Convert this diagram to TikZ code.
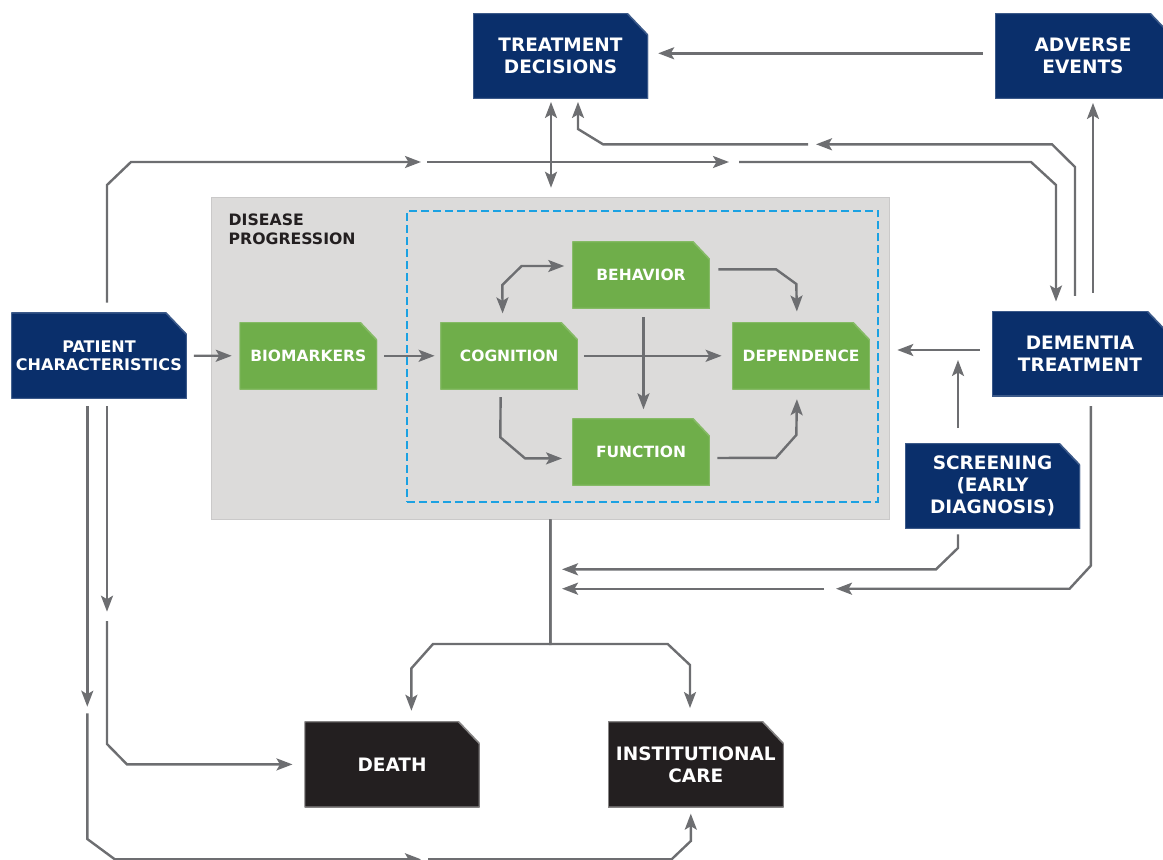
\documentclass[tikz,border=0pt]{standalone}
\usepackage{fontspec}
\setmainfont{DejaVu Sans}
\usetikzlibrary{arrows.meta,positioning}
\definecolor{navy}{HTML}{0A2F6B}
\definecolor{leaf}{HTML}{6FAE4A}
\definecolor{ink}{HTML}{231F20}
\definecolor{wiregray}{HTML}{6D6E71}
\definecolor{panel}{HTML}{DCDBDA}
\definecolor{sky}{HTML}{1BA1E2}
\def\bigw{175pt}
\def\bigh{85.5pt}
\def\smallw{137.5pt}
\def\smallh{67pt}

\begin{document}
\begin{tikzpicture}[x=1pt, y=-1pt, line join=miter,
    flow/.style={draw=wiregray, line width=2.4pt, -{Stealth[length=16pt,width=12pt,inset=3.5pt]}},
    twoway/.style={draw=wiregray, line width=2.4pt, {Stealth[length=16pt,width=12pt,inset=3.5pt]}-{Stealth[length=16pt,width=12pt,inset=3.5pt]}},
    cut x/.store in=\cutx, cut y/.store in=\cuty, cut x=21pt, cut y=22pt,
    cut fill/.style 2 args={path picture={
        \path[fill=#1, draw=#2, line width=1.6pt]
            (path picture bounding box.south west) -- (path picture bounding box.north west)
            -- ([xshift=-\cutx]path picture bounding box.north east)
            -- ([yshift=-\cuty]path picture bounding box.north east)
            -- (path picture bounding box.south east) -- cycle;}}]
    \tikzstyle{block}=[rectangle, minimum width=\bigw, minimum height=\bigh, inner sep=0pt, text=white, align=center, font=\bfseries\fontsize{18.5}{22}\selectfont]
    \tikzstyle{action block}=[block, cut fill={navy}{navy!80!white}]
    \tikzstyle{outcome block}=[block, cut fill={ink}{ink!55!white}]
    \tikzstyle{state block}=[block, cut fill={leaf}{leaf!85!white}, minimum width=\smallw, minimum height=\smallh, cut x=17pt, cut y=18pt, font=\bfseries\fontsize{15.5}{18}\selectfont]
    \useasboundingbox (0,0) rectangle (1163,860);

    % Disease progression panel
    \node[fill=panel, draw=panel!92!black, line width=0.6pt, minimum width=678.6pt, minimum height=321.7pt, inner sep=0pt] (prog) at (550.3,358.2) {};
    \node[draw=sky, line width=2pt, dash pattern=on 8pt off 4pt, minimum width=471.2pt, minimum height=291.3pt, inner sep=0pt] (core) at (642.4,356.4) {};
    \node[anchor=north west, inner sep=0pt, align=left, text=ink, font=\bfseries\fontsize{15.7}{19}\selectfont] (title) at (228.5,213.3) {DISEASE\\PROGRESSION};

    % Draw the nodes
    \node[action block] (TD) at (560.5,56) {TREATMENT\\DECISIONS};
    \node[action block, minimum width=176pt] (AE) at (1083,56) {ADVERSE\\EVENTS};
    \node[action block, minimum width=175.5pt, minimum height=86pt, font=\bfseries\fontsize{16}{18.5}\selectfont] (PC) at (99,355.7) {PATIENT\\CHARACTERISTICS};
    \node[action block, minimum width=176pt, minimum height=85pt] (DT) at (1080,353.5) {DEMENTIA\\TREATMENT};
    \node[action block] (SC) at (992.5,486) {SCREENING\\(EARLY\\DIAGNOSIS)};

    \node[state block] (BIO) at (308.3,355.8) {BIOMARKERS};
    \node[state block, right=63pt of BIO] (COG) {COGNITION};
    \node[state block, right=154pt of COG] (DEP) {DEPENDENCE};
    \node[state block] (BEH) at (641,275) {BEHAVIOR};
    \node[state block, below=109.6pt of BEH] (FUN) {FUNCTION};

    \node[outcome block] (DE) at (392,764.4) {DEATH};
    \node[outcome block, minimum width=175.5pt] (IC) at (695.8,764.4) {INSTITUTIONAL\\CARE};

    % Break points and free ends
    \coordinate (pc-up-a) at (421,162);
    \coordinate (pc-up-b) at (427,162);
    \coordinate (pc-up-c) at (729,162);
    \coordinate (pc-up-d) at (739,162);
    \coordinate (dt-back-a) at (816,144.3);
    \coordinate (dt-back-b) at (808,144.3);
    \coordinate (dt-low-a) at (836,588.7);
    \coordinate (dt-low-b) at (824,588.7);
    \coordinate (dt-in) at (562,588.7);
    \coordinate (scr-in) at (562,569.3);
    \coordinate (split) at (550.3,644);
    \coordinate (pc-death-a) at (107,611.7);
    \coordinate (pc-death-b) at (107,621);
    \coordinate (pc-care-a) at (87.3,706.7);
    \coordinate (pc-care-b) at (87.3,713.3);
    \coordinate (pc-care-c) at (421,859.3);
    \coordinate (pc-care-d) at (428,859.3);

    % Connect the disease states
    \draw[flow, shorten <=7pt, shorten >=7.6pt] (PC.east) -- (BIO.west);
    \draw[flow, shorten <=7pt, shorten >=5.6pt] (BIO.east) -- (COG.west);
    \draw[flow, shorten <=5.6pt, shorten >=10.5pt] (COG.east) -- (DEP.west);
    \draw[flow, shorten <=8.6pt, shorten >=9pt] ([xshift=2.5pt]BEH.south) -- ([xshift=2.5pt]FUN.north);
    \draw[twoway, shorten <=8.7pt, shorten >=7.8pt] ([xshift=-6.5pt]COG.north) -- (502.3,285) -- (521.6,266) -- ([yshift=9pt]BEH.west);
    \draw[flow, shorten <=7.7pt, shorten >=10pt] ([xshift=-8.5pt]COG.south) -- (500.3,437.3) -- (525,458.3) -- ([yshift=-6.5pt]FUN.west);
    \draw[flow, shorten <=8.4pt, shorten >=10.6pt] ([yshift=5.7pt]BEH.east) -- (776,269.3) -- (796.3,284) -- ([xshift=-4pt]DEP.north);
    \draw[flow, shorten <=7.4pt, shorten >=9.7pt] ([yshift=-6pt]FUN.east) -- (776,457.8) -- (796.3,435) -- ([xshift=-4pt]DEP.south);

    % Treatment loop
    \draw[flow, shorten <=10pt] ([xshift=8pt]PC.north) -- (107,185) -- (131,162) -- (pc-up-a);
    \draw[flow] (pc-up-b) -- (pc-up-c);
    \draw[flow, shorten >=9.3pt] (pc-up-d) -- (1031,162) -- (1056,185) -- ([xshift=-24pt]DT.north);
    \draw[twoway, shorten <=3pt, shorten >=9.3pt] ([xshift=-9.5pt]TD.south) -- ([xshift=-9.5pt]TD.south |- prog.north);
    \draw[flow, shorten <=15pt] ([xshift=-5pt]DT.north) -- (1075,167) -- (1052,144.3) -- (dt-back-a);
    \draw[flow, shorten >=3pt] (dt-back-b) -- (603,144.3) -- (578,129) -- ([xshift=17.5pt]TD.south);
    \draw[flow, shorten <=18pt, shorten >=4pt] ([xshift=13pt]DT.north) -- ([xshift=13pt]DT.north |- AE.south);
    \draw[flow, shorten <=12pt, shorten >=10pt] ([yshift=2.7pt]AE.west) -- ([yshift=2.7pt]AE.west -| TD.east);
    \draw[flow, shorten <=12pt, shorten >=7.4pt] ([yshift=3.5pt]DT.west) -- ([yshift=3.5pt]DT.west -| prog.east);
    \draw[flow, shorten <=15pt, shorten >=6.5pt] ([xshift=-34.5pt]SC.north) -- ([xshift=-34.5pt]SC.north |- DT.west);
    \draw[flow, shorten <=5.3pt] ([xshift=-34.5pt]SC.south) -- (958,548) -- (936,569.3) -- (scr-in);
    \draw[flow, shorten <=10pt] ([xshift=10.8pt]DT.south) -- (1090.8,565.7) -- (1069.6,588.7) -- (dt-low-a);
    \draw[flow] (dt-low-b) -- (dt-in);

    % Outcomes
    \draw[flow, shorten >=10.7pt] (prog.south) -- (split) -- (433,644) -- (411.4,668.3) -- ([xshift=19.4pt]DE.north);
    \draw[flow, shorten >=13.4pt] (prog.south) -- (split) -- (667.7,644) -- (690,665) -- ([xshift=-5.8pt]IC.north);
    \draw[flow, shorten <=7.3pt] ([xshift=8pt]PC.south) -- (pc-death-a);
    \draw[flow, shorten >=11.8pt] (pc-death-b) -- (107,744) -- (127,764.4) -- (DE.west);
    \draw[flow, shorten <=7.3pt] ([xshift=-11.7pt]PC.south) -- (pc-care-a);
    \draw[flow] (pc-care-b) -- (87.3,839) -- (114.8,859.3) -- (pc-care-c);
    \draw[flow, shorten >=6.3pt] (pc-care-d) -- (671.6,859.3) -- (690.8,841) -- ([xshift=-5pt]IC.south);
\end{tikzpicture}
\end{document}
